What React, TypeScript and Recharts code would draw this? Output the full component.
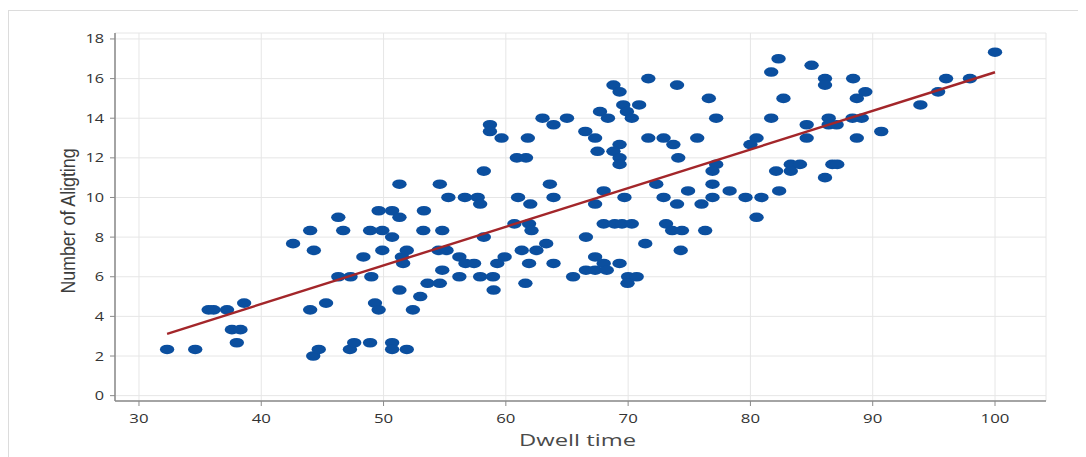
import React from "react";
import {
  ScatterChart,
  Scatter,
  XAxis,
  YAxis,
  CartesianGrid,
} from "recharts";

// Dwell time (x) vs number of alighting passengers (y)
const dwellTime = [
  32.3, 34.6, 35.7, 36.1, 37.2, 37.6, 38.3, 38.0, 38.6, 42.6,
  44.0, 44.3, 44.0, 44.25, 44.7, 45.3, 46.3, 46.7, 46.3, 47.3,
  47.25, 47.6, 48.35, 48.9, 49.0, 48.9, 49.3, 49.6, 49.6, 49.9,
  49.9, 50.7, 50.7, 50.7, 50.7, 51.3, 51.3, 51.3, 51.5, 51.6,
  51.9, 51.9, 52.4, 53.0, 53.3, 53.25, 53.6, 54.6, 54.5, 54.6,
  54.8, 54.8, 58.7, 58.7, 59.65, 61.8, 60.9, 61.65, 63.0, 63.9,
  65.0, 66.5, 67.3, 67.5, 58.2, 55.3, 56.65, 57.7, 57.9, 61.0,
  62.0, 63.6, 63.9, 67.3, 60.7, 61.9, 62.1, 58.2, 66.55, 55.15,
  56.2, 56.7, 57.4, 59.9, 59.3, 61.3, 62.5, 63.3, 61.9, 63.9,
  67.3, 56.2, 57.9, 58.95, 59.0, 61.6, 65.5, 66.55, 67.3, 71.65,
  68.8, 69.3, 74.0, 76.6, 69.6, 70.9, 67.7, 69.9, 68.35, 70.3,
  77.2, 71.65, 72.9, 73.7, 75.65, 69.3, 68.8, 69.3, 69.3, 74.1,
  80.5, 80.0, 77.2, 76.9, 72.3, 76.9, 68.0, 74.9, 78.3, 69.7,
  72.9, 76.9, 79.6, 80.9, 74.0, 76.0, 80.5, 68.0, 68.9, 69.5,
  70.3, 73.1, 73.6, 74.4, 76.3, 71.4, 74.3, 68.0, 69.3, 68.25,
  70.0, 70.7, 69.95, 82.3, 85.0, 81.7, 86.1, 86.1, 88.4, 100.0,
  96.0, 97.95, 95.35, 89.4, 88.7, 82.7, 93.9, 81.7, 86.4, 88.35,
  89.1, 84.6, 86.4, 87.05, 90.7, 84.6, 88.7, 83.3, 84.05, 86.7,
  87.1, 82.1, 83.3, 86.1, 82.35,
];

const alighting = [
  2.33, 2.33, 4.33, 4.33, 4.33, 3.33, 3.33, 2.67, 4.67, 7.67,
  8.33, 7.33, 4.33, 2.0, 2.33, 4.67, 9.0, 8.33, 6.0, 6.0,
  2.33, 2.67, 7.0, 8.33, 6.0, 2.67, 4.67, 4.33, 9.33, 8.33,
  7.33, 9.33, 8.0, 2.67, 2.33, 10.67, 9.0, 5.33, 7.0, 6.67,
  7.33, 2.33, 4.33, 5.0, 9.33, 8.33, 5.67, 10.67, 7.33, 5.67,
  8.33, 6.33, 13.67, 13.33, 13.0, 13.0, 12.0, 12.0, 14.0, 13.67,
  14.0, 13.33, 13.0, 12.33, 11.33, 10.0, 10.0, 10.0, 9.67, 10.0,
  9.67, 10.67, 10.0, 9.67, 8.67, 8.67, 8.33, 8.0, 8.0, 7.33,
  7.0, 6.67, 6.67, 7.0, 6.67, 7.33, 7.33, 7.67, 6.67, 6.67,
  7.0, 6.0, 6.0, 6.0, 5.33, 5.67, 6.0, 6.33, 6.33, 16.0,
  15.67, 15.33, 15.67, 15.0, 14.67, 14.67, 14.33, 14.33, 14.0, 14.0,
  14.0, 13.0, 13.0, 12.67, 13.0, 12.67, 12.33, 12.0, 11.67, 12.0,
  13.0, 12.67, 11.67, 11.33, 10.67, 10.67, 10.33, 10.33, 10.33, 10.0,
  10.0, 10.0, 10.0, 10.0, 9.67, 9.67, 9.0, 8.67, 8.67, 8.67,
  8.67, 8.67, 8.33, 8.33, 8.33, 7.67, 7.33, 6.67, 6.67, 6.33,
  6.0, 6.0, 5.67, 17.0, 16.67, 16.33, 16.0, 15.67, 16.0, 17.33,
  16.0, 16.0, 15.33, 15.33, 15.0, 15.0, 14.67, 14.0, 14.0, 14.0,
  14.0, 13.67, 13.67, 13.67, 13.33, 13.0, 13.0, 11.67, 11.67, 11.67,
  11.67, 11.33, 11.33, 11.0, 10.33,
];

// fitted line end points as drawn
const fitX = [32.3, 100];
const fitY = [3.12, 16.32];

const xTicks = [30, 40, 50, 60, 70, 80, 90, 100];
const yTicks = [0, 2, 4, 6, 8, 10, 12, 14, 16, 18];

const points = dwellTime.map((x, i) => ({ x, y: alighting[i] }));
const fitLine = fitX.map((x, i) => ({ x, y: fitY[i] }));

const xDomain: [number, number] = [28.04, 104.17];
const yDomain: [number, number] = [-0.27, 18.3];

const axisColor = "#8a8a8a";
const font = "Open Sans";

// the source picture is stretched sideways a bit, so widen the digits
const XTick = (props: any) => {
  const { x, y, payload } = props;
  const s = String(payload.value);
  return (
    <text
      x={x}
      y={y + 13}
      textAnchor="middle"
      fill="#333"
      fontSize={13}
      fontFamily={font}
      textLength={s.length * 9.6}
      lengthAdjust="spacingAndGlyphs"
    >
      {s}
    </text>
  );
};

const YTick = (props: any) => {
  const { x, y, payload } = props;
  const s = String(payload.value);
  return (
    <text
      x={x}
      y={y + 4.5}
      textAnchor="end"
      fill="#333"
      fontSize={13}
      fontFamily={font}
      textLength={s.length * 9.3}
      lengthAdjust="spacingAndGlyphs"
    >
      {s}
    </text>
  );
};

const Dot = (props: any) => {
  const { cx, cy } = props;
  if (cx == null || cy == null) return <g />;
  return <ellipse cx={cx} cy={cy} rx={7.2} ry={4.8} fill="#0b4f9f" />;
};

export default function App() {
  return (
    <div style={{ position: "relative", width: 1078, height: 449 }}>
      <div
        style={{
          position: "absolute",
          left: 0,
          top: 2,
          width: 1078,
          height: 447,
          borderLeft: "1px solid #dcdcdc",
          borderTop: "1px solid #dcdcdc",
        }}
      />
      <ScatterChart
        width={1078}
        height={449}
        margin={{ top: 25, right: 40, bottom: 16, left: 47 }}
        style={{ position: "absolute", left: 0, top: 0 }}
      >
        <CartesianGrid stroke="#e6e6e6" strokeWidth={1} />
        <XAxis
          dataKey="x"
          type="number"
          domain={xDomain}
          ticks={xTicks}
          allowDataOverflow
          height={40}
          tick={XTick}
          tickSize={5}
          tickMargin={4}
          axisLine={{ stroke: axisColor, strokeWidth: 1.5 }}
          tickLine={{ stroke: axisColor }}
          label={{
            content: (p: any) => {
              const vb = p.viewBox || {};
              return (
                <text
                  x={vb.x + vb.width / 2 - 3}
                  y={vb.y + 45}
                  textAnchor="middle"
                  fill="#4a4a4a"
                  fontSize={17}
                  fontFamily={font}
                  textLength={117}
                  lengthAdjust="spacingAndGlyphs"
                >
                  Dwell time
                </text>
              );
            },
          }}
        />
        <YAxis
          dataKey="y"
          type="number"
          domain={yDomain}
          ticks={yTicks}
          allowDataOverflow
          width={60}
          tick={YTick}
          tickSize={5}
          tickMargin={6}
          axisLine={{ stroke: axisColor, strokeWidth: 1.5 }}
          tickLine={{ stroke: axisColor }}
          label={{
            content: (p: any) => {
              const vb = p.viewBox || {};
              const cx = vb.x + 13;
              const cy = vb.y + vb.height / 2 + 4;
              return (
                <text
                  x={cx}
                  y={cy}
                  textAnchor="middle"
                  dominantBaseline="central"
                  transform={`rotate(-90 ${cx} ${cy})`}
                  fill="#3c3c3c"
                  fontSize={20}
                  fontFamily="Liberation Sans"
                  textLength={145}
                  lengthAdjust="spacingAndGlyphs"
                >
                  Number of Aligting
                </text>
              );
            },
          }}
        />
        <XAxis
          xAxisId="top"
          orientation="top"
          type="number"
          domain={xDomain}
          height={0}
          tick={false}
          tickLine={false}
          axisLine={{ stroke: axisColor, strokeWidth: 1.5 }}
        />
        <YAxis
          yAxisId="right"
          orientation="right"
          type="number"
          domain={yDomain}
          width={0}
          tick={false}
          tickLine={false}
          axisLine={{ stroke: axisColor, strokeWidth: 1.5 }}
        />
        <Scatter data={points} shape={Dot} isAnimationActive={false} />
        <Scatter
          data={fitLine}
          line={{ stroke: "#a3262a", strokeWidth: 2.4 }}
          shape={() => <g />}
          isAnimationActive={false}
        />
      </ScatterChart>
    </div>
  );
}
